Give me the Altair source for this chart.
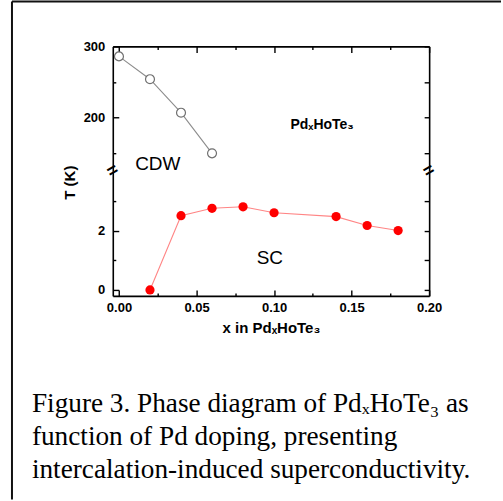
import altair as alt
import pandas as pd

# ---------------- data ----------------
cdw_x = [0.00, 0.02, 0.04, 0.06]
cdw_t = [286, 254, 207, 150]
sc_x = [0.02, 0.04, 0.06, 0.08, 0.10, 0.14, 0.16, 0.18]
sc_t = [0.0, 2.50, 2.75, 2.80, 2.60, 2.47, 2.17, 2.00]

x_major = [0.0, 0.05, 0.10, 0.15, 0.20]
x_minor = [0.025, 0.075, 0.125, 0.175]
top_major = [200, 300]
top_minor = [150, 250]
bot_major = [0, 2]
bot_minor = [1, 3]

caption_lines = [
    "Figure 3. Phase diagram of PdₓHoTe₃ as",
    "function of Pd doping, presenting",
    "intercalation-induced superconductivity.",
]

# ---------------- scales ----------------
X_DOM = [-0.004, 0.2]
TOP_DOM = [125, 300]
BOT_DOM = [-0.2, 4.0]
xs = alt.Scale(domain=X_DOM, nice=False, zero=False)
ys_top = alt.Scale(domain=TOP_DOM, nice=False, zero=False)
ys_bot = alt.Scale(domain=BOT_DOM, nice=False, zero=False)

df_cdw = pd.DataFrame({"x": cdw_x, "t": cdw_t})
df_sc = pd.DataFrame({"x": sc_x, "t": sc_t})


def ax(orient, **kw):
    base = dict(orient=orient, grid=False, title=None, labels=False,
                ticks=False, domain=False, labelFlush=False)
    base.update(kw)
    return alt.Axis(**base)


def enc(xaxis, yaxis, ysc):
    return dict(
        x=alt.X("x:Q", scale=xs, axis=xaxis),
        y=alt.Y("t:Q", scale=ysc, axis=yaxis),
    )


SANS = "Liberation Sans"
W, H = 317, 125

# ---------------- top panel (CDW) ----------------
t_line = alt.Chart(df_cdw).mark_line(color="#8c8c8c", strokeWidth=1.1).encode(
    **enc(ax("top", domain=True),
          ax("left", domain=True, labels=True, values=top_major, tickSize=0,
             labelPadding=8, format="d"),
          ys_top))
t_pts = alt.Chart(df_cdw).mark_circle(
    size=80, fill="white", stroke="#707070", strokeWidth=1.2, opacity=1
).encode(**enc(ax("top", ticks=True, values=x_major, tickSize=6, offset=-6),
               ax("left", ticks=True, values=top_major, tickSize=6, offset=-6),
               ys_top))
t_minor = alt.Chart(df_cdw).mark_point(opacity=0).encode(
    **enc(ax("top", ticks=True, values=x_minor, tickSize=3, offset=-3),
          ax("left", ticks=True, values=top_minor, tickSize=3, offset=-3),
          ys_top))
t_r1 = alt.Chart(df_cdw).mark_point(opacity=0).encode(
    **enc(None, ax("right", domain=True), ys_top))
t_r2 = alt.Chart(df_cdw).mark_point(opacity=0).encode(
    **enc(None, ax("right", ticks=True, values=top_major + top_minor,
                   tickSize=5, offset=-5), ys_top))

t_cdw = alt.Chart(pd.DataFrame({"x": [0.025], "t": [126], "s": ["CDW"]})).mark_text(
    font=SANS, fontSize=19, align="center", baseline="alphabetic", color="black"
).encode(**enc(None, None, ys_top), text="s:N")
t_formula = alt.Chart(pd.DataFrame({"x": [0.131], "t": [184], "s": ["PdₓHoTe₃"]})).mark_text(
    font=SANS, fontSize=14, fontWeight="bold", align="center", baseline="alphabetic",
    color="black"
).encode(**enc(None, None, ys_top), text="s:N")
t_breaks = alt.Chart(pd.DataFrame({"x": X_DOM, "t": [TOP_DOM[0]] * 2})).mark_text(
    text="=", font=SANS, fontSize=18, fontWeight="bold", angle=330,
    align="center", baseline="middle", color="black"
).encode(**enc(None, None, ys_top))

dummy = pd.DataFrame({"a": [0]})
border_top = alt.Chart(dummy).mark_rule(color="#111", strokeWidth=2).encode(
    x=alt.value(-101), x2=alt.value(389), y=alt.value(-45))
border_left = alt.Chart(dummy).mark_rule(color="#111", strokeWidth=2).encode(
    x=alt.value(-101), y=alt.value(-45), y2=alt.value(454))

top = alt.layer(
    t_line, t_pts, t_minor, t_r1, t_r2, t_cdw, t_formula, t_breaks,
    border_top, border_left
).properties(width=W, height=H).resolve_axis(x="independent", y="independent")

# ---------------- bottom panel (SC) ----------------
b_line = alt.Chart(df_sc).mark_line(color="#ff8585", strokeWidth=1.1).encode(
    **enc(ax("bottom", domain=True, labels=True, values=x_major, tickSize=0,
             labelPadding=6, format=".2f", title="x in PdₓHoTe₃", titlePadding=6),
          ax("left", domain=True, labels=True, values=bot_major, tickSize=0,
             labelPadding=8, format="d", title="T (K)", titleAngle=270,
             titleX=-43, titleY=11, titleBaseline="middle", titleAlign="center"),
          ys_bot))
b_pts = alt.Chart(df_sc).mark_circle(size=85, color="#ff0000", opacity=1).encode(
    **enc(ax("bottom", ticks=True, values=x_major, tickSize=6, offset=-6),
          ax("left", ticks=True, values=bot_major, tickSize=6, offset=-6),
          ys_bot))
b_minor = alt.Chart(df_sc).mark_point(opacity=0).encode(
    **enc(ax("bottom", ticks=True, values=x_minor, tickSize=3, offset=-3),
          ax("left", ticks=True, values=bot_minor, tickSize=3, offset=-3),
          ys_bot))
b_r1 = alt.Chart(df_sc).mark_point(opacity=0).encode(
    **enc(None, ax("right", domain=True), ys_bot))
b_r2 = alt.Chart(df_sc).mark_point(opacity=0).encode(
    **enc(None, ax("right", ticks=True, values=bot_major + bot_minor,
                   tickSize=5, offset=-5), ys_bot))
b_sc = alt.Chart(pd.DataFrame({"x": [0.0973], "t": [0.88], "s": ["SC"]})).mark_text(
    font=SANS, fontSize=19, align="center", baseline="alphabetic", color="black"
).encode(**enc(None, None, ys_bot), text="s:N")

caption = alt.Chart(pd.DataFrame({"cap": ["\n".join(caption_lines)]})).mark_text(
    font="Liberation Serif", fontSize=27.3, lineHeight=33, lineBreak="\n",
    align="left", baseline="alphabetic", color="black"
).encode(x=alt.value(-81), y=alt.value(241), text="cap:N")

bottom = alt.layer(
    b_line, b_pts, b_minor, b_r1, b_r2, b_sc, caption
).properties(width=W, height=H).resolve_axis(x="independent", y="independent")

chart = alt.vconcat(
    top, bottom, spacing=0, bounds="flush",
    padding={"left": 11, "top": 0, "right": 1, "bottom": 1},
).configure_view(stroke=None).configure_axis(
    labelFont=SANS, labelFontWeight="bold", labelFontSize=13, labelColor="black",
    titleFont=SANS, titleFontWeight="bold", titleFontSize=15, titleColor="black",
    domainColor="black", domainWidth=1.6, tickColor="black", tickWidth=1.4,
    grid=False,
)

chart.save("out.html", embed_options={"renderer": "svg", "actions": False})
